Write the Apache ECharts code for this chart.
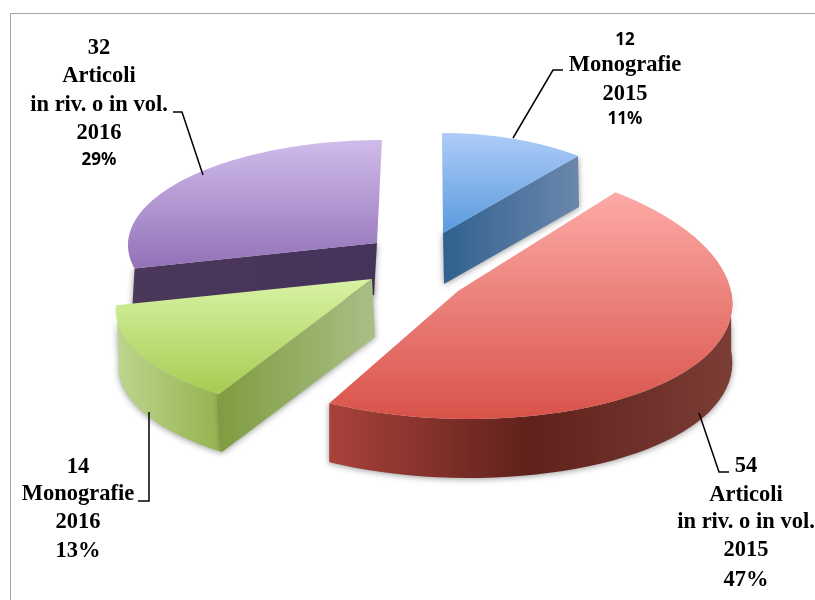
<!DOCTYPE html>
<html>
<head>
<meta charset="utf-8">
<style>
  html, body { margin: 0; padding: 0; background: #fff; overflow: hidden; }
  #chart { width: 815px; height: 600px; }
</style>
</head>
<body>
<div id="chart"></div>
<script src="https://cdn.jsdelivr.net/npm/echarts@6/dist/echarts.min.js"></script>
<script>
// data
const categories = ['Monografie', 'Articoli\nin riv. o in vol.', 'Monografie', 'Articoli\nin riv. o in vol.'];
const years = ['2015', '2015', '2016', '2016'];
const counts = [12, 54, 14, 32];
const shares = [11, 47, 13, 29];

// start angle of each slice, clockwise from north
const startAngles = [];
shares.reduce((sum, s, i) => { startAngles[i] = sum / 100 * Math.PI * 2; return sum + s; }, 0);

// look of each slice: apex on screen, ellipse radii, perspective, wall height,
// and which walls can be seen from the camera
const sliceStyles = [
  { ax: 443, ay: 233, rx: 213, ry: 100, p: 0, q: 0, sk: 1, h: 51, dx: 1, order: 1,
    arc: false, radial: 'end',
    top: ['#aeccf8', '#5a9ade'], wall: ['#30618f', '#6b87ac'] },
  { ax: 458, ay: 291, rx: 273, ry: 128, p: 0.06, q: 0, sk: 11, h: 59, dx: 0, order: 3,
    arc: true, radial: null,
    top: ['#fdaaa6', '#d8534a'], wall: ['#a8423b', '#5f211b', '#7c3d37'] },
  { ax: 372, ay: 279, rx: 243, ry: 96, p: 0.35, q: 0.42, sk: 0, h: 58, dx: 3, order: 2,
    arc: true, radial: 'start',
    top: ['#d8f3a4', '#a6cc52'], wall: ['#bcd68e', '#95b24f'], radialWall: ['#7f9c40', '#aabf86'] },
  { ax: 377, ay: 243, rx: 249, ry: 103, p: 0, q: 0, sk: -5, h: 52, dx: -3, order: 0,
    arc: false, radial: 'start',
    top: ['#d0bceb', '#9272b8'], wall: ['#4b3759', '#46335a'] }
];

// text rows and leader lines
const labelBoxes = [
  { x: 625, ys: [40, 65, 94, 119], sans: [0, 3],
    leader: [[513, 138], [553, 70], [563, 70]] },
  { x: 746, ys: [466, 495, 522, 550, 580], sans: [],
    leader: [[699, 413], [719, 472], [729, 472]] },
  { x: 78, ys: [467, 494, 522, 551], sans: [],
    leader: [[149, 412], [149, 501], [138, 501]] },
  { x: 99, ys: [48, 76, 105, 133, 160], sans: [4],
    leader: [[203, 175], [182, 112], [173, 112]] }
];

function rimPoint(st, a) {
  const u = Math.sin(a);
  const v = -Math.cos(a);
  return [
    st.ax + st.rx * u * (1 + st.p * v) + st.sk * v,
    st.ay + st.ry * v * (1 + st.q * v)
  ];
}

function grad(colors, vertical) {
  const stops = colors.map((c, i) => ({ offset: i / (colors.length - 1), color: c }));
  return vertical
    ? new echarts.graphic.LinearGradient(0, 0, 0, 1, stops)
    : new echarts.graphic.LinearGradient(0, 0, 1, 0, stops);
}

const wallShadow = { shadowBlur: 6, shadowColor: 'rgba(0,0,0,0.4)', shadowOffsetY: 1 };

function renderSlice(params, api) {
  const i = params.dataIndex;
  const st = sliceStyles[i];
  const a0 = startAngles[i];
  const a1 = a0 + api.value(0) / 100 * Math.PI * 2;
  const rim = [];
  const front = [];
  const steps = 60;
  for (let k = 0; k <= steps; k++) {
    const a = a0 + (a1 - a0) * k / steps;
    const pt = rimPoint(st, a);
    rim.push(pt);
    if (Math.cos(a) <= 0) front.push(pt);
  }
  const down = pt => [pt[0] + st.dx, pt[1] + st.h];
  const apex = [st.ax, st.ay];
  const base = st.order * 10;
  const children = [];

  if (st.arc) {
    children.push({
      type: 'polygon', z2: base, shape: { points: front.concat(front.slice().reverse().map(down)) },
      style: Object.assign({ fill: grad(st.wall) }, wallShadow)
    });
  }
  if (st.radial) {
    const edge = st.radial === 'start' ? rim[0] : rim[steps];
    children.push({
      type: 'polygon', z2: base + 1, shape: { points: [apex, edge, down(edge), down(apex)] },
      style: Object.assign({ fill: grad(st.radialWall || st.wall) }, wallShadow)
    });
  }
  children.push({
    type: 'polygon', z2: base + 2, shape: { points: [apex].concat(rim) },
    style: { fill: grad(st.top, true) }
  });
  return { type: 'group', children };
}

// labels built from the data arrays
function labelElements() {
  const out = [];
  labelBoxes.forEach((box, i) => {
    const rows = [String(counts[i])]
      .concat(categories[i].split('\n'), years[i], shares[i] + '%');
    rows.forEach((row, r) => {
      const sans = box.sans.includes(r);
      out.push({
        type: 'text', z: 20, x: box.x, y: box.ys[r],
        style: {
          text: row, fill: '#000', align: 'center', verticalAlign: 'middle',
          font: sans ? 'bold 17px "Noto Sans"' : 'bold 22.5px "Liberation Serif"'
        }
      });
    });
    out.push({
      type: 'polyline', z: 20, shape: { points: box.leader },
      style: { stroke: '#000', lineWidth: 1.5, fill: null }
    });
  });
  return out;
}

const chart = echarts.init(document.getElementById('chart'));
chart.setOption({
  backgroundColor: '#fff',
  animation: false,
  graphic: [
    { type: 'polyline', z: 1, shape: { points: [[10.5, 600], [10.5, 13.5], [815, 13.5]] },
      style: { stroke: '#a6a6a6', lineWidth: 1, fill: null } }
  ].concat(labelElements()),
  series: [{
    type: 'custom',
    coordinateSystem: 'none',
    silent: true,
    renderItem: renderSlice,
    data: shares.map((s, i) => ({ name: categories[i] + ' ' + years[i], value: [s] }))
  }]
});
</script>
</body>
</html>
